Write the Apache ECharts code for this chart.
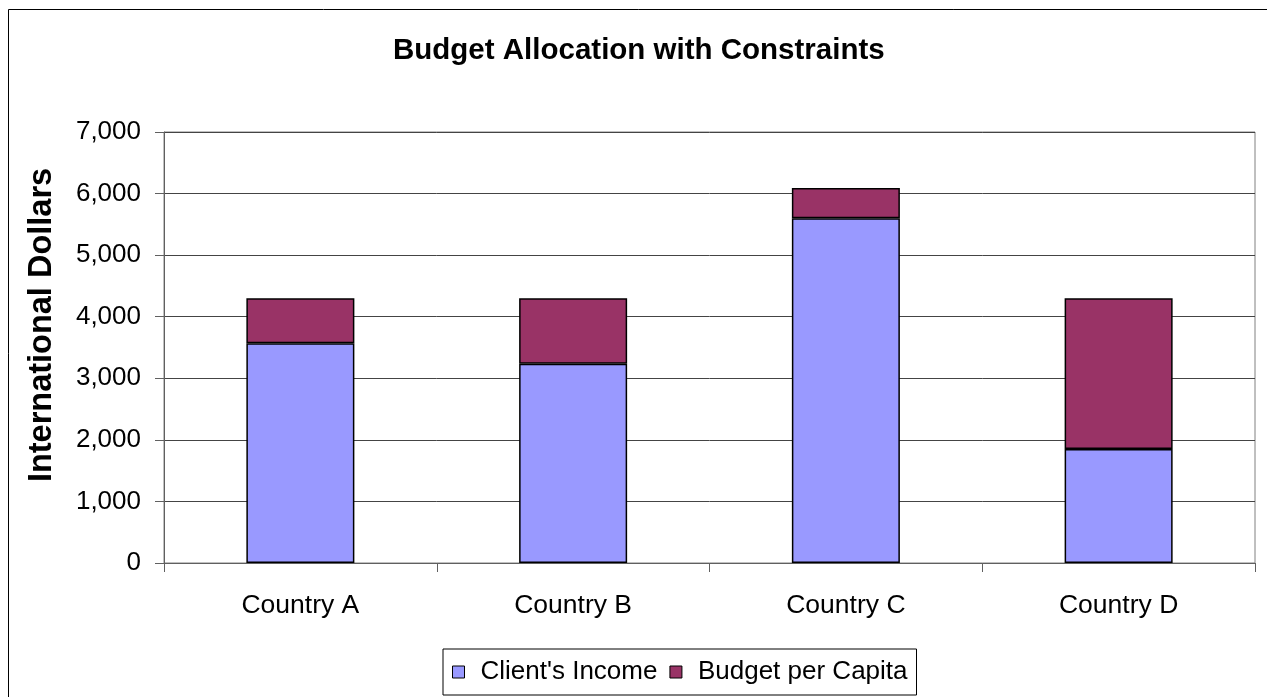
<!DOCTYPE html>
<html>
<head>
<meta charset="utf-8">
<script src="https://cdn.jsdelivr.net/npm/echarts@6/dist/echarts.min.js"></script>
<style>
html,body{margin:0;padding:0;background:#fff;}
#chart{width:1267px;height:697px;}
</style>
</head>
<body>
<div id="chart"></div>
<script>
var categories = ['Country A', 'Country B', 'Country C', 'Country D'];
var clientsIncome = [3570, 3235, 5600, 1850];
var budgetPerCapita = [730, 1065, 490, 2450];
var yTicks = {min: 0, max: 7000, interval: 1000};

var FONT = "'Liberation Sans', Arial, sans-serif";
var chart = echarts.init(document.getElementById('chart'), null, {renderer: 'canvas'});
chart.setOption({
  animation: false,
  backgroundColor: '#fff',
  title: {
    text: 'Budget Allocation with Constraints',
    left: 393,
    top: 36,
    padding: 0,
    textStyle: {fontFamily: FONT, fontSize: 29.5, fontWeight: 'bold', color: '#000'}
  },
  graphic: [
    {
      type: 'rect', silent: true, z: 100,
      shape: {x: 8.5, y: 9.5, width: 1400, height: 900},
      style: {fill: 'none', stroke: '#000', lineWidth: 1}
    },
    {
      type: 'text', silent: true,
      x: 42, y: 325, rotation: Math.PI / 2,
      style: {
        text: 'International Dollars',
        font: 'bold 32.5px ' + FONT,
        fill: '#000',
        align: 'center',
        verticalAlign: 'middle'
      }
    }
  ],
  grid: {
    left: 164, right: 12, top: 132, bottom: 134,
    show: true, borderColor: '#808080', borderWidth: 1,
    containLabel: false
  },
  legend: {
    data: ["Client's Income", 'Budget per Capita'],
    left: 443, top: 649,
    orient: 'horizontal',
    padding: [10, 9, 10, 9],
    borderColor: '#000', borderWidth: 1,
    itemWidth: 12, itemHeight: 12, itemGap: 12,
    icon: 'rect',
    itemStyle: {borderColor: '#000', borderWidth: 1},
    textStyle: {fontFamily: FONT, fontSize: 26, color: '#000', padding: [0, 0, 0, 11]}
  },
  xAxis: {
    type: 'category',
    data: categories,
    boundaryGap: true,
    axisLine: {show: true, lineStyle: {color: '#606060', width: 1}},
    axisTick: {show: true, inside: false, length: 9, alignWithLabel: false, interval: 0, lineStyle: {color: '#606060'}},
    axisLabel: {fontFamily: FONT, fontSize: 26.5, color: '#000', margin: 29, interval: 0},
    splitLine: {show: false}
  },
  yAxis: {
    type: 'value',
    min: yTicks.min, max: yTicks.max, interval: yTicks.interval,
    axisLine: {show: true, lineStyle: {color: '#606060', width: 1}},
    axisTick: {show: true, inside: false, length: 9, lineStyle: {color: '#606060'}},
    axisLabel: {
      fontFamily: FONT, fontSize: 26, color: '#000', margin: 23,
      formatter: function (v) { return v.toLocaleString('en-US'); }
    },
    splitLine: {show: true, lineStyle: {color: '#444', width: 1}}
  },
  series: [
    {
      name: "Client's Income",
      type: 'bar',
      stack: 'total',
      data: clientsIncome,
      barWidth: '39.6%',
      itemStyle: {color: '#9999FF', borderColor: '#000', borderWidth: 1.5}
    },
    {
      name: 'Budget per Capita',
      type: 'bar',
      stack: 'total',
      data: budgetPerCapita,
      barWidth: '39.6%',
      itemStyle: {color: '#993366', borderColor: '#000', borderWidth: 1.5}
    }
  ]
});
</script>
</body>
</html>
